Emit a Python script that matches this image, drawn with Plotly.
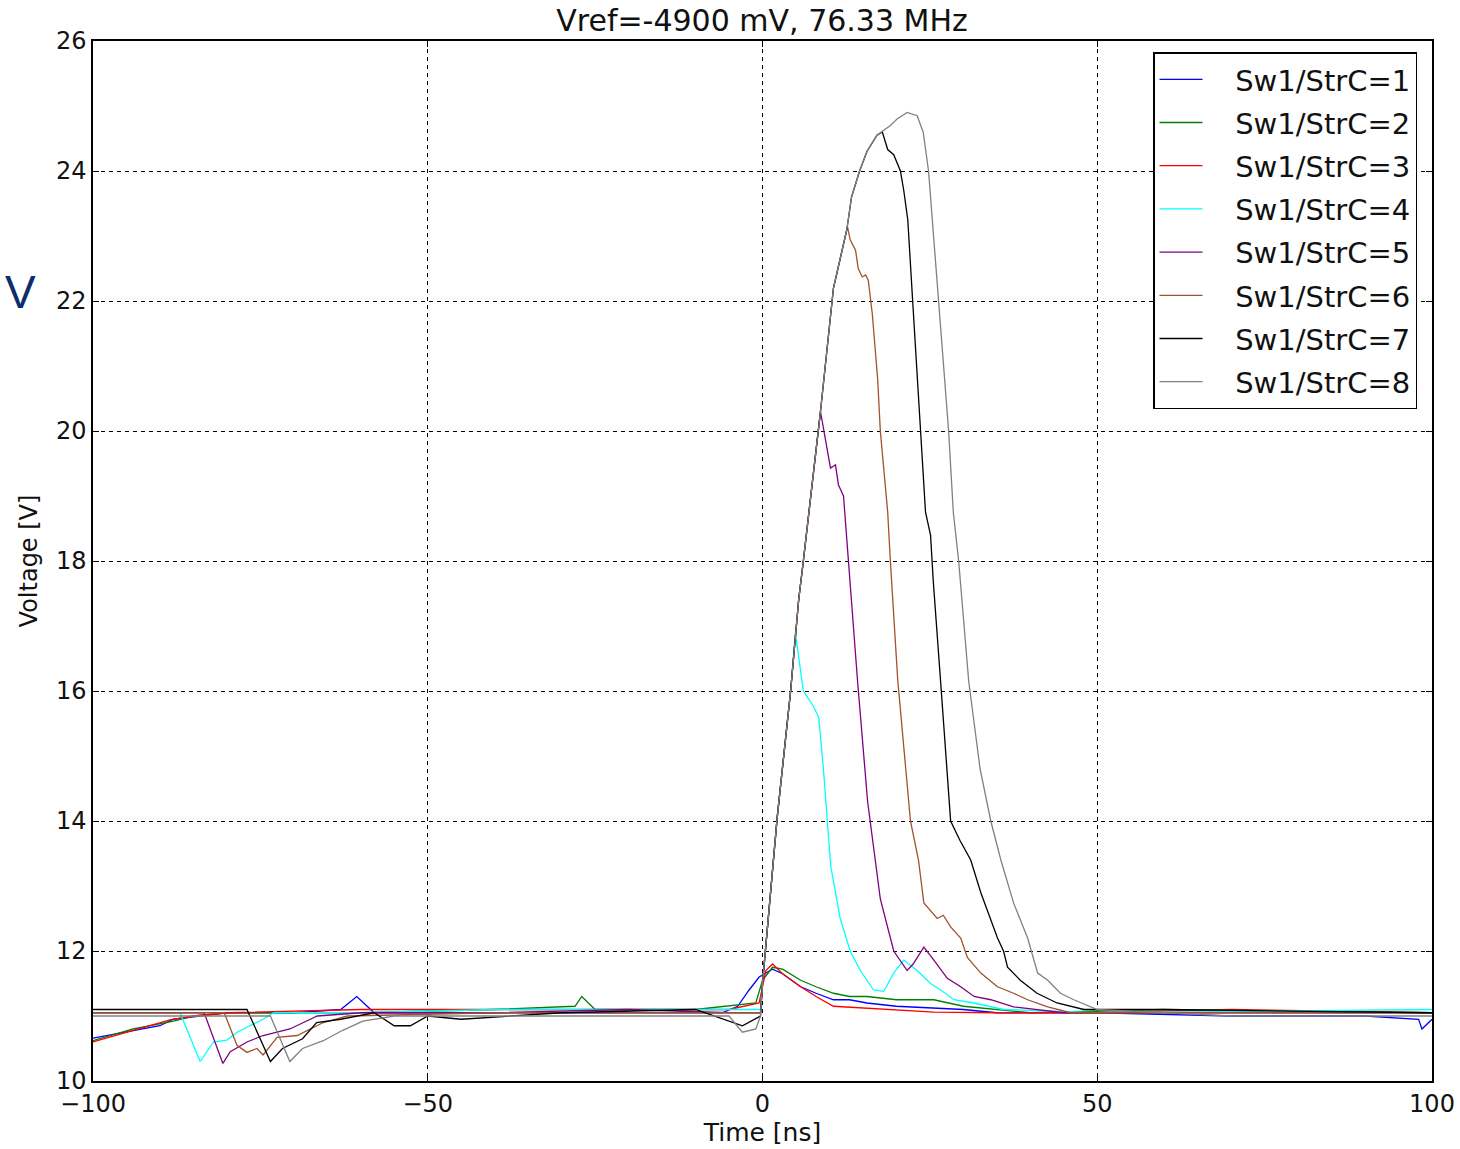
import plotly.graph_objects as go

# ---------------- data ----------------
names = ["Sw1/StrC=1", "Sw1/StrC=2", "Sw1/StrC=3", "Sw1/StrC=4",
         "Sw1/StrC=5", "Sw1/StrC=6", "Sw1/StrC=7", "Sw1/StrC=8"]
colors = ["#0000ff", "#008000", "#ff0000", "#00ffff",
          "#800080", "#a0522d", "#000000", "#808080"]

t1 = [-100, -95, -90, -88, -80, -70, -63, -60.6, -58, -45, -30, -15, -6, -3.7, -2, -0.5,
      1.5, 3.0, 5.7, 8.0, 10.6, 13, 15.6, 20, 25.6, 30, 35, 50, 70, 85, 90, 98, 98.5, 100]
v1 = [10.66, 10.75, 10.85, 10.95, 11.05, 11.05, 11.1, 11.3, 11.05, 11.05, 11.05, 11.05, 11.05, 11.15, 11.4, 11.6,
      11.72, 11.65, 11.45, 11.35, 11.25, 11.25, 11.2, 11.15, 11.12, 11.1, 11.05, 11.05, 11.0, 11.0, 11.0, 10.95, 10.8, 10.95]

t2 = [-100, -94, -88, -85, -80, -60, -40, -28, -27, -25, -10, -1, 0, 1.5, 3.0, 5.7, 8.0, 10.6,
      13, 15.6, 20, 25.6, 30, 35, 40, 60, 100]
v2 = [10.62, 10.8, 10.92, 11.0, 11.05, 11.05, 11.1, 11.15, 11.3, 11.1, 11.1, 11.2, 11.55, 11.75, 11.72, 11.55, 11.45, 11.35,
      11.3, 11.3, 11.25, 11.25, 11.15, 11.1, 11.05, 11.1, 11.05]

t3 = [-100, -94, -88.5, -85, -80, -60, -40, -20, -5, -0.5, 0.5, 1.5, 3, 5.7, 8, 10.6,
      15.6, 20, 25.6, 35, 50, 70, 100]
v3 = [10.6, 10.78, 10.94, 11.0, 11.05, 11.1, 11.1, 11.1, 11.1, 11.2, 11.7, 11.8, 11.65, 11.45, 11.3, 11.15,
      11.12, 11.1, 11.06, 11.05, 11.05, 11.1, 11.05]

t4 = [-100, -87, -86, -84, -82, -80, -78.5, -77, -74.6, -73, -60, -40, -20, -5, -0.3, 0, 2.2, 4.2, 4.9,
      6.1, 7.4, 8.4, 9.1, 10.2, 11.6, 13.1, 14.6, 16.6, 18.1, 19.6, 21.1, 23.1, 25.1, 26.6, 28.6,
      31.6, 36, 50, 100]
v4 = [11.05, 11.05, 10.8, 10.3, 10.6, 10.63, 10.75, 10.83, 10.95, 11.05, 11.05, 11.1, 11.1, 11.1, 11.1, 11.5, 14.06, 16.0, 16.9,
      16.0, 15.8, 15.6, 14.8, 13.3, 12.5, 12.0, 11.7, 11.4, 11.38, 11.66, 11.86, 11.7, 11.5, 11.4, 11.25,
      11.2, 11.1, 11.05, 11.1]

t5 = [-100, -83.4, -80.6, -79.5, -77, -74.6, -70.6, -66.5, -60, -40, -20, -5, -0.3, 0, 2.2, 4.2, 5.4, 6.1,
      8.66, 9.7, 10.16, 10.9, 11.35, 12.1, 12.7, 13.4, 14.2, 15.7, 17.6, 19.6, 21.6, 22.5, 24.1, 25.6,
      27.6, 29.6, 31.6, 34.1, 37.5, 45, 60, 100]
v5 = [11.05, 11.05, 10.27, 10.45, 10.6, 10.7, 10.8, 11.0, 11.05, 11.05, 11.1, 11.05, 11.05, 11.5, 14.06, 16.0, 17.4, 18.0,
      20.3, 19.66, 19.43, 19.48, 19.17, 19.0, 18.2, 17.2, 16.15, 14.3, 12.8, 12.0, 11.7, 11.8, 12.06, 11.86,
      11.58, 11.45, 11.3, 11.25, 11.14, 11.05, 11.05, 11.05]

t6 = [-100, -80.4, -78.5, -77, -75.5, -74.6, -72.5, -69.5, -65.6, -62, -40, -20, -5, -0.3, 0, 2.2, 4.2, 5.4, 6.1,
      8.66, 10.6, 12.7, 13.1, 13.9, 14.3, 14.9, 15.4, 15.8, 16.4, 17.2, 17.6, 18.7, 19.1, 20.2, 22.1,
      23.3, 24.1, 26.1, 27.0, 28.1, 29.6, 30.6, 32.6, 35.1, 37.5, 39.6, 42.6, 46, 60, 100]
v6 = [11.05, 11.05, 10.55, 10.44, 10.5, 10.4, 10.67, 10.7, 10.9, 11.0, 11.05, 11.05, 11.05, 11.05, 11.5, 14.06, 16.0, 17.4, 18.0,
      20.3, 22.2, 23.14, 22.94, 22.78, 22.5, 22.37, 22.4, 22.32, 21.8, 20.8, 20.0, 18.75, 18.0, 16.17, 14.0,
      13.4, 12.74, 12.5, 12.55, 12.37, 12.2, 11.9, 11.66, 11.45, 11.35, 11.25, 11.14, 11.05, 11.05, 11.05]

t7 = [-100, -77, -73.5, -71.7, -68.7, -66.6, -63, -58, -55, -52.6, -50, -45, -30, -10, -3, -0.3, 0, 2.2, 4.2,
      5.4, 6.1, 8.66, 10.6, 12.6, 13.3, 14.5, 15.6, 17.1, 17.9, 18.7, 19.6, 20.6, 21.1, 21.7, 22.4,
      23.15, 23.6, 24.35, 25.1, 25.5, 26.6, 28.1, 29.5, 31.1, 32.6, 35.1, 36.0, 36.6, 38.5, 41, 44, 48,
      60, 100]
v7 = [11.1, 11.1, 10.3, 10.5, 10.65, 10.9, 10.95, 11.05, 10.85, 10.85, 11.0, 10.95, 11.05, 11.1, 10.85, 11.0, 11.5, 14.06, 16.0,
      17.4, 18.0, 20.3, 22.2, 23.1, 23.6, 24.0, 24.3, 24.55, 24.6, 24.33, 24.25, 24.0, 23.7, 23.25, 22.05,
      20.8, 20.0, 18.75, 18.4, 17.7, 16.15, 14.0, 13.7, 13.4, 12.9, 12.2, 12.0, 11.75, 11.55, 11.35, 11.2, 11.1,
      11.1, 11.05]

t8 = [-100, -73.5, -70.6, -68.7, -65.6, -62.7, -59.7, -55, -30, -5, -3, -1, -0.3, 0, 2.2, 4.2, 5.4, 6.1,
      8.66, 10.6, 12.6, 13.3, 14.5, 15.6, 17.1, 19.1, 20.1, 21.6, 23.1, 24.0, 24.8, 25.5, 26.3, 27.2,
      27.8, 28.5, 29.3, 30.8, 32.5, 34.1, 35.6, 37.5, 39.6, 41.1, 42.6, 44.5, 46.5, 50, 70, 100]
v8 = [11.0, 11.0, 10.3, 10.5, 10.62, 10.78, 10.92, 11.0, 11.0, 11.0, 10.75, 10.8, 11.0, 11.5, 14.06, 16.0, 17.4, 18.0,
      20.3, 22.2, 23.1, 23.6, 24.0, 24.3, 24.55, 24.7, 24.8, 24.9, 24.85, 24.6, 24.0, 23.1, 22.0, 20.8,
      20.0, 18.75, 18.0, 16.15, 14.8, 14.0, 13.4, 12.74, 12.2, 11.66, 11.55, 11.35, 11.25, 11.1, 11.0, 11.0]

times = [t1, t2, t3, t4, t5, t6, t7, t8]
volts = [v1, v2, v3, v4, v5, v6, v7, v8]

x_ticks = [-100, -50, 0, 50, 100]
y_ticks = [10, 12, 14, 16, 18, 20, 22, 24, 26]

FONT = "DejaVu Sans"
PAD = "\u00a0\u00a0\u00a0"   # gap between legend sample line and label

fig = go.Figure()
for name, col, t, v in zip(names, colors, times, volts):
    fig.add_trace(go.Scatter(x=t, y=v, mode="lines", name=PAD + name, legendgroup=name,
                             line=dict(color=col, width=1.3)))

axis_common = dict(showgrid=True, gridcolor="black", gridwidth=1.2, griddash="4px,4px",
                   showline=True, linecolor="black", linewidth=1.5, mirror="allticks",
                   ticks="inside", ticklen=6, tickcolor="black", tickwidth=1.2,
                   zeroline=False, tickfont=dict(family=FONT, size=24, color="#111"))

fig.update_xaxes(range=[-100, 100], tickvals=x_ticks, **axis_common,
                 title=dict(text="Time [ns]", font=dict(family=FONT, size=25, color="#111"), standoff=0))
fig.update_yaxes(range=[10, 26], tickvals=y_ticks, **axis_common,
                 title=dict(text="Voltage [V]", font=dict(family=FONT, size=24, color="#111"), standoff=12))

W, H = 1460, 1149
fig.update_layout(
    width=W, height=H,
    margin=dict(l=93, r=28, t=41, b=68, autoexpand=False),
    plot_bgcolor="white", paper_bgcolor="white",
    font=dict(family=FONT, color="#111"),
    title=dict(text="Vref=-4900 mV, 76.33 MHz", x=762 / W, xanchor="center",
               y=1 - 20 / H, yanchor="middle", font=dict(family=FONT, size=30, color="#111")),
    legend=dict(x=0.9888, y=0.989, xanchor="right", yanchor="top",
                bgcolor="white", bordercolor="black", borderwidth=1.5,
                font=dict(family=FONT, size=29, color="#111"),
                tracegroupgap=2.5, itemwidth=43),
    showlegend=True,
)

fig.add_annotation(text="V", xref="paper", yref="paper", x=-90 / 1339, y=0.7587,
                   xanchor="left", yanchor="middle", showarrow=False,
                   font=dict(family="Liberation Sans", size=46, color="#0c2d6b"))

# remove the default page margin so the figure sits at the window's top-left corner
fig.write_html("out.html",
               config={"displayModeBar": False},
               post_script="document.body.style.margin='0';document.body.style.overflow='hidden';")
